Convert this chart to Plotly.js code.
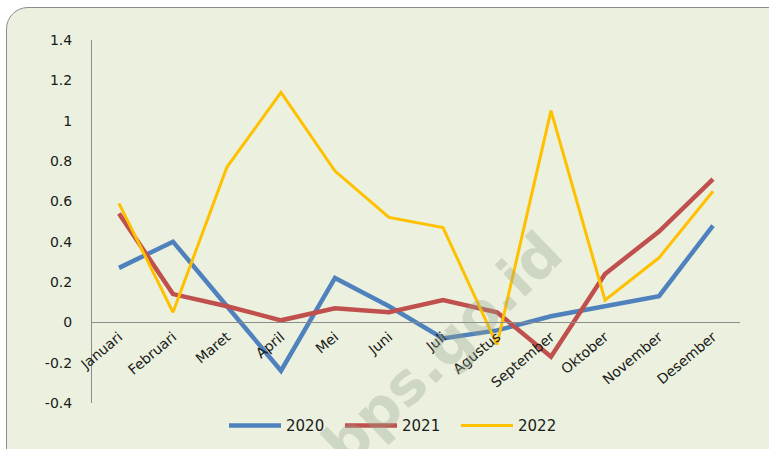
<!DOCTYPE html>
<html>
<head>
<meta charset="utf-8">
<script src="https://cdn.plot.ly/plotly-3.0.1.min.js"></script>
<style>
  html, body { margin: 0; padding: 0; background: #ffffff; width: 769px; height: 449px; overflow: hidden; }
  #frame { position: absolute; left: 6px; top: 7px; width: 790px; height: 470px; background: #EBF1DE; border: 1px solid #8c8c8c; border-radius: 22px; box-sizing: border-box; }
  #chart { position: absolute; left: 0; top: 0; width: 769px; height: 449px; }
</style>
</head>
<body>
<div id="frame"></div>
<div id="chart"></div>
<script>
const months = ["Januari","Februari","Maret","April","Mei","Juni","Juli","Agustus","September","Oktober","November","Desember"];
const y2020 = [0.27, 0.40, 0.08, -0.24, 0.22, 0.08, -0.08, -0.04, 0.03, 0.08, 0.13, 0.48];
const y2021 = [0.54, 0.14, 0.08, 0.01, 0.07, 0.05, 0.11, 0.05, -0.17, 0.24, 0.45, 0.71];
const y2022 = [0.59, 0.05, 0.77, 1.14, 0.75, 0.52, 0.47, -0.11, 1.05, 0.11, 0.32, 0.65];
const seriesNames = ["2020", "2021", "2022"];
const yTickVals = [-0.4, -0.2, 0, 0.2, 0.4, 0.6, 0.8, 1, 1.2, 1.4];
const yTickText = ["-0.4", "-0.2", "0", "0.2", "0.4", "0.6", "0.8", "1", "1.2", "1.4"];
const watermark = "bps.go.id";

const colors = ["#4F81BD", "#C0504D", "#FFC000"];
const widths = [4.5, 4.5, 3];
const data = [y2020, y2021, y2022].map((ys, i) => ({
  type: "scatter",
  mode: "lines",
  x: months,
  y: ys,
  name: seriesNames[i],
  line: { color: colors[i], width: widths[i] }
}));

const layout = {
  width: 769,
  height: 449,
  margin: { l: 92, r: 29, t: 40, b: 46, autoexpand: false },
  paper_bgcolor: "rgba(0,0,0,0)",
  plot_bgcolor: "rgba(0,0,0,0)",
  font: { family: "DejaVu Sans, sans-serif", size: 14, color: "#1a1a1a" },
  showlegend: true,
  legend: {
    orientation: "h",
    x: 0.2037, xanchor: "left",
    y: -0.063, yanchor: "middle",
    font: { size: 15, color: "#1a1a1a" },
    itemwidth: 52,
    entrywidth: 49,
    entrywidthmode: "pixels",
    bgcolor: "rgba(0,0,0,0)"
  },
  xaxis: {
    type: "category",
    range: [-0.5, 11.5],
    anchor: "free",
    position: 0.4 / 1.8,
    automargin: false,
    showline: true,
    linecolor: "#8c8c8c",
    linewidth: 1,
    showgrid: false,
    zeroline: false,
    ticks: "",
    tickangle: -40,
    tickfont: { size: 14, color: "#1a1a1a" },
    fixedrange: true
  },
  yaxis: {
    range: [-0.4, 1.4],
    domain: [0, 1],
    automargin: false,
    tickvals: yTickVals,
    ticktext: yTickText,
    showline: true,
    linecolor: "#8c8c8c",
    linewidth: 1,
    showgrid: false,
    zeroline: false,
    ticks: "",
    ticklabelstandoff: 16,
    tickfont: { size: 14, color: "#1a1a1a" },
    fixedrange: true
  },
  annotations: [{
    text: watermark,
    xref: "paper", yref: "paper",
    x: 0.54, y: 0.15,
    xanchor: "center", yanchor: "middle",
    showarrow: false,
    textangle: -44,
    font: { family: "DejaVu Sans, sans-serif", size: 58, color: "rgba(150,165,140,0.33)", weight: "bold" }
  }]
};

Plotly.newPlot("chart", data, layout, { displayModeBar: false, staticPlot: true });
</script>
</body>
</html>
